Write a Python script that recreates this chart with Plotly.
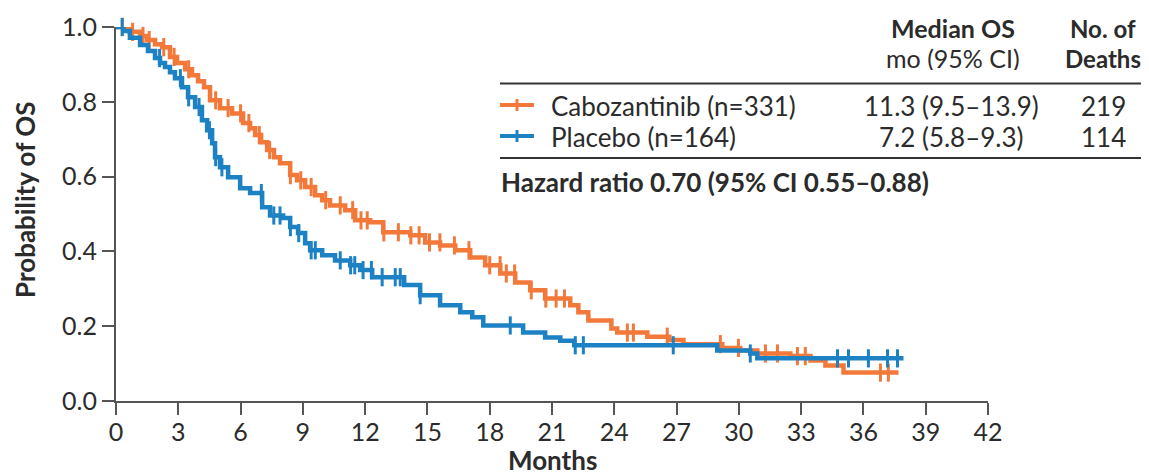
import bisect
import plotly.graph_objects as go

# ---------------- data ----------------
cabo_months = [0, 0.43, 0.67, 1.16, 1.49, 1.88, 2.22, 2.60, 2.94, 3.33, 3.66, 3.95, 4.24, 4.53,
               5.01, 5.59, 6.12, 6.46, 6.70, 6.99, 7.28, 7.61, 7.90, 8.39, 8.72, 9.11, 9.59,
               9.93, 10.31, 11.04, 11.52, 12.24, 12.87, 14.17, 14.89, 15.61, 16.34, 17.06,
               17.78, 18.51, 19.23, 19.95, 20.67, 21.88, 22.27, 22.75, 23.86, 24.14, 25.59,
               26.65, 27.33, 29.20, 30.07, 30.89, 32.48, 33.45, 34.17, 35.04, 37.69]
cabo_surv = [1.0, 0.995, 0.987, 0.976, 0.965, 0.954, 0.946, 0.920, 0.904, 0.887, 0.871, 0.855,
             0.839, 0.804, 0.783, 0.769, 0.743, 0.729, 0.711, 0.692, 0.671, 0.652, 0.636,
             0.604, 0.590, 0.572, 0.550, 0.537, 0.523, 0.510, 0.483, 0.478, 0.451, 0.443,
             0.424, 0.416, 0.403, 0.384, 0.363, 0.341, 0.317, 0.296, 0.274, 0.256, 0.237,
             0.215, 0.194, 0.183, 0.172, 0.163, 0.152, 0.142, 0.135, 0.127, 0.120, 0.108,
             0.095, 0.076, 0.076]
cabo_censor = [0.3, 0.8, 1.3, 1.6, 2.3, 2.8, 3.5, 4.8, 5.4, 6.0, 6.4, 6.9, 7.4, 8.4, 8.9, 9.4,
               10.1, 10.8, 11.4, 11.8, 12.1, 12.9, 13.6, 14.2, 14.6, 15.1, 15.6, 16.3, 17.0,
               18.0, 18.5, 18.8, 19.2, 20.0, 20.7, 21.2, 21.6, 24.63, 24.92, 26.55, 29.11,
               29.98, 31.28, 31.86, 32.82, 33.20, 36.82, 37.20]

plac_months = [0, 0.35, 0.67, 1.16, 1.54, 1.88, 2.12, 2.36, 2.60, 2.84, 3.18, 3.47, 3.81, 4.14,
               4.39, 4.63, 4.77, 5.01, 5.40, 5.98, 6.46, 7.04, 7.42, 8.05, 8.39, 8.77, 9.11,
               9.35, 9.93, 10.55, 11.28, 11.76, 12.34, 13.88, 14.65, 15.61, 16.58, 17.16,
               17.69, 19.61, 20.67, 21.40, 22.07, 28.96, 30.55, 30.89, 37.93]
plac_surv = [1.0, 0.989, 0.971, 0.952, 0.936, 0.917, 0.904, 0.893, 0.879, 0.863, 0.839, 0.812,
             0.786, 0.751, 0.724, 0.689, 0.652, 0.625, 0.598, 0.569, 0.556, 0.518, 0.496,
             0.489, 0.465, 0.449, 0.422, 0.403, 0.390, 0.376, 0.363, 0.350, 0.331, 0.310,
             0.283, 0.256, 0.237, 0.224, 0.202, 0.183, 0.170, 0.161, 0.149, 0.135, 0.127,
             0.114, 0.114]
plac_censor = [0.3, 2.1, 3.1, 3.5, 4.0, 4.5, 4.8, 5.1, 7.0, 7.6, 7.9, 8.4, 8.8, 9.4, 9.6,
               10.8, 11.3, 11.5, 11.9, 12.3, 12.82, 13.45, 13.69, 14.65, 18.99, 22.12, 22.51,
               26.84, 30.55, 34.75, 35.28, 36.24, 37.16, 37.64]

x_ticks = list(range(0, 43, 3))
y_ticks = [0.0, 0.2, 0.4, 0.6, 0.8, 1.0]
y_tick_text = ["0.0", "0.2", "0.4", "0.6", "0.8", "1.0"]

header_median = ["<b>Median OS</b>", "mo (95% CI)"]
header_deaths = ["<b>No. of</b>", "<b>Deaths</b>"]
arm_labels = ["Cabozantinib (n=331)", "Placebo (n=164)"]
arm_medians = ["11.3 (9.5–13.9)", "7.2 (5.8–9.3)"]
arm_deaths = ["219", "114"]
hazard_text = "<b>Hazard ratio 0.70 (95% CI 0.55–0.88)</b>"

ORANGE = "#F3793B"
BLUE = "#1C82C4"
arm_colors = [ORANGE, BLUE]

# ---------------- helpers ----------------
def step_value(times, surv, t):
    i = bisect.bisect_right(times, t) - 1
    return surv[max(i, 0)]

OFF = 8  # page body margin of the html page
W, H = 1149 - OFF, 475 - OFF
L, T = 116 - OFF, 27 - OFF
R = W - (988 - OFF)
B = 74
PW, PH = W - L - R, H - T - B

def px(x):  # reference pixel x -> paper
    return (x - OFF - L) / PW

def py(y):  # reference pixel y -> paper
    return (H - B - (y - OFF)) / PH

FONT = "Lato"
TXT = "#2b2b2b"
AX = "#555555"
TS = 26

fig = go.Figure()

for months, surv, cens, col in [(cabo_months, cabo_surv, cabo_censor, ORANGE),
                                (plac_months, plac_surv, plac_censor, BLUE)]:
    fig.add_trace(go.Scatter(x=months, y=surv, mode="lines", line=dict(color=col, width=4.5, shape="hv"),
                             cliponaxis=False, showlegend=False, hoverinfo="skip"))
    fig.add_trace(go.Scatter(x=cens, y=[step_value(months, surv, t) for t in cens], mode="markers",
                             marker=dict(symbol="line-ns", size=13, line=dict(color=col, width=3)),
                             cliponaxis=False, showlegend=False, hoverinfo="skip"))

fig.update_layout(
    width=W, height=H,
    margin=dict(l=L, r=R, t=T, b=B, autoexpand=False),
    paper_bgcolor="white", plot_bgcolor="white",
    font=dict(family=FONT, color=TXT, size=TS),
    xaxis=dict(range=[0, 42], tickvals=x_ticks, ticks="outside", ticklen=12, tickwidth=2,
               tickcolor=AX, showline=True, linecolor=AX, linewidth=2, showgrid=False,
               zeroline=False, automargin=False, ticklabelstandoff=-4,
               tickfont=dict(size=25, color=TXT, family=FONT)),
    yaxis=dict(range=[0, 1], tickvals=y_ticks, ticktext=y_tick_text, ticks="outside", ticklen=12,
               tickwidth=2, tickcolor=AX, showline=True, linecolor=AX, linewidth=2,
               showgrid=False, zeroline=False, automargin=False,
               tickfont=dict(size=25, color=TXT, family=FONT)),
    showlegend=False,
)

ann = []
ann.append(dict(text="<b>Months</b>", x=0.5, y=py(460), xref="paper", yref="paper", height=26,
                showarrow=False, font=dict(size=26), xanchor="center", yanchor="middle"))
ann.append(dict(text="<b>Probability of OS</b>", x=px(25), y=py(200), xref="paper", yref="paper",
                showarrow=False, font=dict(size=26), textangle=-90, xanchor="center", yanchor="middle"))
for j, yy in enumerate([28, 58]):
    ann.append(dict(text=header_median[j], x=px(953), y=py(yy), xref="paper", yref="paper", height=24,
                    showarrow=False, font=dict(size=25), xanchor="center", yanchor="middle"))
    ann.append(dict(text=header_deaths[j], x=px(1103), y=py(yy), xref="paper", yref="paper", height=24,
                    showarrow=False, font=dict(size=24), xanchor="center", yanchor="middle"))
row_y = [106, 137]
for i in range(2):
    ann.append(dict(text=arm_labels[i], x=px(549), y=py(row_y[i]), xref="paper", yref="paper", height=28,
                    showarrow=False, font=dict(size=TS), xanchor="left", yanchor="middle"))
    ann.append(dict(text=arm_medians[i], x=px(951), y=py(row_y[i]), xref="paper", yref="paper", height=28,
                    showarrow=False, font=dict(size=TS), xanchor="center", yanchor="middle"))
    ann.append(dict(text=arm_deaths[i], x=px(1103), y=py(row_y[i]), xref="paper", yref="paper", height=28,
                    showarrow=False, font=dict(size=TS), xanchor="center", yanchor="middle"))
ann.append(dict(text=hazard_text, x=px(499), y=py(182), xref="paper", yref="paper",
                showarrow=False, font=dict(size=TS), xanchor="left", yanchor="middle"))
fig.update_layout(annotations=ann)

shapes = []
for yline in [83.5, 158]:
    shapes.append(dict(type="line", xref="paper", yref="paper", x0=px(500), x1=px(1144),
                       y0=py(yline), y1=py(yline), line=dict(color="#333333", width=2)))
for i in range(2):
    shapes.append(dict(type="line", xref="paper", yref="paper", x0=px(500), x1=px(534),
                       y0=py(row_y[i] - 1), y1=py(row_y[i] - 1), line=dict(color=arm_colors[i], width=4)))
    shapes.append(dict(type="line", xref="paper", yref="paper", x0=px(517), x1=px(517),
                       y0=py(row_y[i] - 7), y1=py(row_y[i] + 5), line=dict(color=arm_colors[i], width=3)))
fig.update_layout(shapes=shapes)

fig.write_html("out.html")
